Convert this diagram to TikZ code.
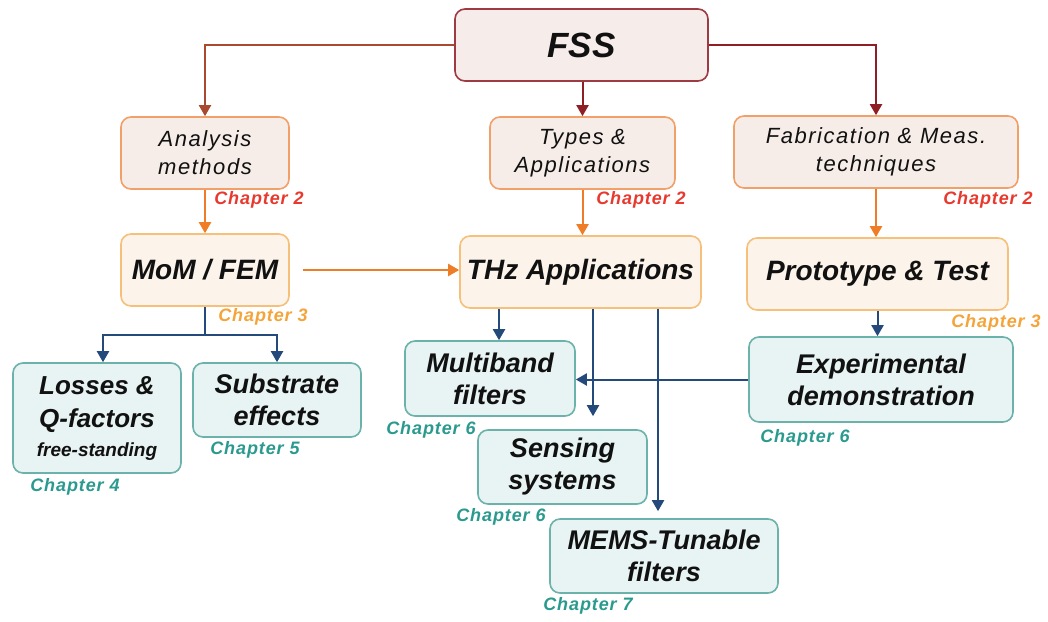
\documentclass[tikz,border=0pt]{standalone}
\usepackage{fontspec}
\setmainfont{Liberation Sans}
\newfontfamily\spacedfont[LetterSpace=7]{Liberation Sans}
\newfontfamily\chapfont[LetterSpace=5]{Liberation Sans}
\usetikzlibrary{arrows.meta,calc}

\definecolor{rootfill}{HTML}{F6ECEA}
\definecolor{rootline}{HTML}{9E3A44}
\definecolor{topfill}{HTML}{F6EDE8}
\definecolor{topline}{HTML}{F0A068}
\definecolor{midfill}{HTML}{FCF3EA}
\definecolor{midline}{HTML}{F6C07A}
\definecolor{leaffill}{HTML}{E8F3F3}
\definecolor{leafline}{HTML}{6AB2AA}
\definecolor{brownarrow}{HTML}{A84A30}
\definecolor{redarrow}{HTML}{8E1F24}
\definecolor{orangearrow}{HTML}{EF7C27}
\definecolor{bluearrow}{HTML}{244A7C}
\definecolor{chred}{HTML}{E8392E}
\definecolor{chorange}{HTML}{F4A43A}
\definecolor{chteal}{HTML}{2A9A8E}
\definecolor{ink}{HTML}{111111}

\tikzset{
  box/.style={rectangle, rounded corners=10pt, line width=1.6pt, inner sep=0pt,
    align=center, text=ink},
  rootbox/.style={box, draw=rootline, fill=rootfill, font=\bfseries\itshape\fontsize{35}{40}\selectfont},
  topbox/.style={box, draw=topline, fill=topfill, font=\spacedfont\itshape\fontsize{22}{28}\selectfont},
  midbox/.style={box, draw=midline, fill=midfill, font=\bfseries\itshape\fontsize{28}{32}\selectfont},
  leafbox/.style={box, draw=leafline, fill=leaffill, font=\bfseries\itshape\fontsize{27}{32}\selectfont},
  chap/.style={inner sep=0pt, font=\chapfont\bfseries\itshape\fontsize{18}{20}\selectfont},
  ch2/.style={chap, text=chred},
  ch3/.style={chap, text=chorange},
  chX/.style={chap, text=chteal},
  tip/.style={-{Triangle[width=12pt,length=11pt]}},
  rootlink/.style={tip, line width=2pt},
  orangelink/.style={tip, line width=2pt, draw=orangearrow},
  bluelink/.style={tip, line width=2pt, draw=bluearrow},
}

\begin{document}
\begin{tikzpicture}[x=1pt, y=-1pt]
\useasboundingbox (0,0) rectangle (1048,621);

% top level
\node[rootbox, minimum width=253pt, minimum height=72pt] (fss) at (581.5,45) {FSS};

% second level
\node[topbox, minimum width=168pt, minimum height=72pt] (analysis) at (205,153) {Analysis\\methods};
\node[topbox, minimum width=185pt, minimum height=72pt] (types) at (582.5,153) {Types \&\\Applications};
\node[topbox, minimum width=284pt, minimum height=72pt] (fab) at (876,152) {Fabrication \& Meas.\\techniques};

% third level
\node[midbox, minimum width=168pt, minimum height=72pt] (mom) at (205,270) {MoM / FEM};
\node[midbox, minimum width=241pt, minimum height=72pt] (thz) at (580.5,272) {THz Applications};
\node[midbox, minimum width=261pt, minimum height=72pt] (proto) at (877.5,274) {Prototype \& Test};

% leaves
\node[leafbox, minimum width=168pt, minimum height=110pt, font=\bfseries\itshape\fontsize{26}{33}\selectfont] (losses) at (97,418)
  {Losses \&\\Q-factors\\[-4pt]{\fontsize{19}{22}\selectfont free-standing}};
\node[leafbox, minimum width=168pt, minimum height=74pt] (substrate) at (277,400) {Substrate\\effects};
\node[leafbox, minimum width=170pt, minimum height=75pt] (multi) at (490,378.5) {Multiband\\filters};
\node[leafbox, minimum width=169pt, minimum height=74pt] (sensing) at (562.5,467) {Sensing\\systems};
\node[leafbox, minimum width=228pt, minimum height=74pt] (mems) at (664,556) {MEMS-Tunable\\filters};
\node[leafbox, minimum width=264pt, minimum height=85pt] (exp) at (881,379.5) {Experimental\\demonstration};

% chapter references
\node[ch2] (c2a) at (259,200) {Chapter 2};
\node[ch2] (c2b) at (641,200) {Chapter 2};
\node[ch2] (c2c) at (988,200) {Chapter 2};
\node[ch3] (c3a) at (263,317) {Chapter 3};
\node[ch3] (c3b) at (996,323) {Chapter 3};
\node[chX] (c4) at (75,487) {Chapter 4};
\node[chX] (c5) at (255,450) {Chapter 5};
\node[chX] (c6a) at (431,430) {Chapter 6};
\node[chX] (c6b) at (501,517) {Chapter 6};
\node[chX] (c6c) at (805,438) {Chapter 6};
\node[chX] (c7) at (588,606) {Chapter 7};

% links from the root
\draw[rootlink, draw=brownarrow] (fss.west) -| (analysis.north);
\draw[rootlink, draw=redarrow] (types.north |- fss.south) -- (types.north);
\draw[rootlink, draw=redarrow] (fss.east) -| (fab.north);

% second to third level
\draw[orangelink] (analysis.south) -- (mom.north);
\draw[orangelink] (types.south) -- (types.south |- thz.north);
\draw[orangelink] (fab.south) -- (fab.south |- proto.north);
\draw[orangelink, shorten <=13pt] (mom.east) -- (mom.east -| thz.west);

% MoM / FEM branches
\coordinate (split) at ($(mom.south)+(0,28)$);
\draw[line width=2pt, draw=bluearrow] (mom.south) -- (split);
\draw[bluelink] (split) -| ([xshift=6pt]losses.north);
\draw[bluelink] (split) -| (substrate.north);

% THz branches
\draw[bluelink] ([xshift=9pt]multi.north |- thz.south) -- ([xshift=9pt]multi.north);
\draw[bluelink, shorten >=13pt] ([xshift=30.5pt]sensing.north |- thz.south) -- ([xshift=30.5pt]sensing.north);
\draw[bluelink, shorten >=7pt] ([xshift=-6pt]mems.north |- thz.south) -- ([xshift=-6pt]mems.north);

% prototype branch
\draw[bluelink] (proto.south) -- (proto.south |- exp.north);
\draw[bluelink] (exp.west) -- (exp.west -| multi.east);
\end{tikzpicture}
\end{document}
